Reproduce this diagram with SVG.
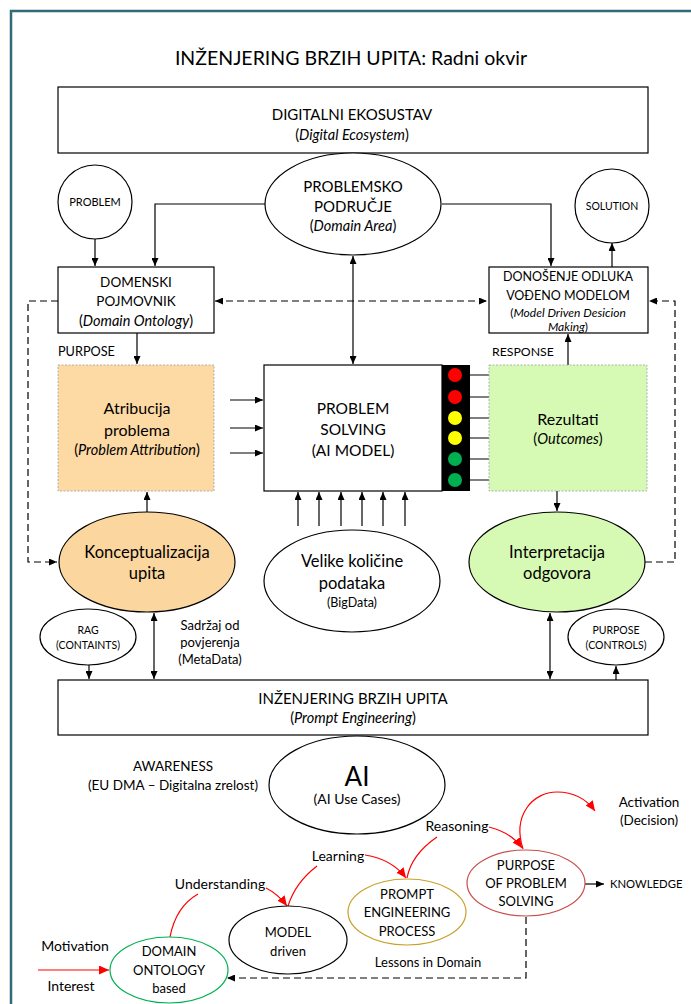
<svg xmlns="http://www.w3.org/2000/svg" width="691" height="1004" viewBox="0 0 691 1004">
<defs>
<marker id="a" viewBox="0 0 8 7" markerWidth="8" markerHeight="7" refX="8" refY="3.5" orient="auto-start-reverse" markerUnits="userSpaceOnUse"><path d="M0,0 L8,3.5 L0,7 z" fill="#000"/></marker>
<marker id="r" viewBox="0 0 10 9" markerWidth="10" markerHeight="9" refX="10" refY="4.5" orient="auto" markerUnits="userSpaceOnUse"><path d="M0,0 L10,4.5 L0,9 z" fill="#ff0000"/></marker>
<style>
text{font-family:Lato,"Liberation Sans",sans-serif;fill:#000;text-anchor:middle}
.it{font-style:italic}
.box{fill:#fff;stroke:#000;stroke-width:1.2}
.ell{fill:#fff;stroke:#000;stroke-width:1.2}
.ln{fill:none;stroke:#000;stroke-width:1.2}
.dash{fill:none;stroke:#000;stroke-width:1.2;stroke-dasharray:7,4}
.red{fill:none;stroke:#ff0000;stroke-width:1.2}
.l{text-anchor:start}
</style>
</defs>
<rect x="0" y="0" width="691" height="1004" fill="#fff"/>
<rect x="11" y="11" width="700" height="1010" fill="none" stroke="#326a78" stroke-width="2.5"/>
<text x="351" y="65" font-size="19.5">INŽENJERING BRZIH UPITA: Radni okvir</text>

<g id="connectors">
<path class="ln" d="M95,239 V266" marker-end="url(#a)"/>
<path class="ln" d="M265,204 H155 V266" marker-end="url(#a)"/>
<path class="ln" d="M442,204 H551 V266" marker-end="url(#a)"/>
<path class="ln" d="M612,267 V243" marker-end="url(#a)"/>
<path class="ln" d="M353,256 V364" marker-start="url(#a)" marker-end="url(#a)"/>
<path class="dash" d="M215,301 H487" marker-start="url(#a)" marker-end="url(#a)"/>
<path class="dash" d="M58,301 H28 V562 H57" marker-end="url(#a)"/>
<path class="dash" d="M645,562 H675 V301 H649" marker-end="url(#a)"/>
<path class="ln" d="M137,333 V364" marker-end="url(#a)"/>
<path class="ln" d="M568,365 V334" marker-end="url(#a)"/>
<path class="ln" d="M230,400 H263" marker-end="url(#a)"/>
<path class="ln" d="M230,428 H263" marker-end="url(#a)"/>
<path class="ln" d="M230,453 H263" marker-end="url(#a)"/>
<path class="ln" d="M470,375 H503" marker-end="url(#a)"/>
<path class="ln" d="M470,397 H503" marker-end="url(#a)"/>
<path class="ln" d="M470,418 H503" marker-end="url(#a)"/>
<path class="ln" d="M470,438 H503" marker-end="url(#a)"/>
<path class="ln" d="M470,459 H503" marker-end="url(#a)"/>
<path class="ln" d="M470,480 H503" marker-end="url(#a)"/>
<path class="ln" d="M147,512 V492" marker-end="url(#a)"/>
<path class="ln" d="M557,491 V511" marker-end="url(#a)"/>
<path class="ln" d="M298,526 V492" marker-end="url(#a)"/>
<path class="ln" d="M319,526 V492" marker-end="url(#a)"/>
<path class="ln" d="M341,526 V492" marker-end="url(#a)"/>
<path class="ln" d="M362,526 V492" marker-end="url(#a)"/>
<path class="ln" d="M383,526 V492" marker-end="url(#a)"/>
<path class="ln" d="M405,526 V492" marker-end="url(#a)"/>
<path class="ln" d="M89,665 V679" marker-end="url(#a)"/>
<path class="ln" d="M154,613 V679" marker-start="url(#a)" marker-end="url(#a)"/>
<path class="ln" d="M550,613 V679" marker-start="url(#a)" marker-end="url(#a)"/>
<path class="ln" d="M616,680 V666" marker-end="url(#a)"/>
<path class="red" d="M38,970 H109" marker-end="url(#r)"/>
<path class="red" d="M170,937 C174,916 184,902 198,894"/>
<path class="red" d="M266,888 C274,892 281,898 287,906" marker-end="url(#r)"/>
<path class="red" d="M317,866 C304,876 293,890 288,906"/>
<path class="red" d="M365,855 C384,858 397,866 406,878" marker-end="url(#r)"/>
<path class="red" d="M437,837 C421,848 410,862 407,878"/>
<path class="red" d="M489,827 C505,831 515,838 522,848" marker-end="url(#r)"/>
<path class="red" d="M523,849 C512,815 533,792 557,792 C574,792 587,800 595,811" marker-end="url(#r)"/>
<path class="ln" d="M585,884 H604" marker-end="url(#a)"/>
<path class="dash" d="M526,917 V978 H227" marker-end="url(#a)"/>
</g>

<g id="digital"><rect class="box" x="58" y="87" width="590" height="66"/>
<text x="352" y="120" font-size="15">DIGITALNI EKOSUSTAV</text>
<text x="352" y="140" font-size="14.5">(<tspan class="it">Digital Ecosystem</tspan>)</text></g>

<g id="problemsko"><ellipse class="ell" cx="353" cy="204" rx="88" ry="51"/>
<text x="353" y="192" font-size="15">PROBLEMSKO</text>
<text x="353" y="212" font-size="15">PODRUČJE</text>
<text x="353" y="231" font-size="14.5">(<tspan class="it">Domain Area</tspan>)</text></g>

<g id="problem"><circle class="ell" cx="95" cy="202" r="37"/><text x="95" y="206" font-size="11">PROBLEM</text></g>
<g id="solution"><circle class="ell" cx="612" cy="206" r="37"/><text x="612" y="210" font-size="10.5">SOLUTION</text></g>

<g id="domenski"><rect class="box" x="58" y="267" width="156" height="66"/>
<text x="136" y="287" font-size="13.5">DOMENSKI</text>
<text x="136" y="306" font-size="13.5">POJMOVNIK</text>
<text x="136" y="326" font-size="14.5">(<tspan class="it">Domain Ontology</tspan>)</text></g>

<g id="donosenje"><rect class="box" x="489" y="267" width="159" height="66"/>
<text x="568" y="281" font-size="12.5">DONOŠENJE ODLUKA</text>
<text x="568" y="300" font-size="12.5">VOĐENO MODELOM</text>
<text x="568" y="317" font-size="12">(<tspan class="it">Model Driven Desicion</tspan></text>
<text x="568" y="331" font-size="12"><tspan class="it">Making</tspan>)</text></g>

<text class="l" x="58" y="356" font-size="12.7">PURPOSE</text>
<text class="l" x="492" y="356" font-size="12.3">RESPONSE</text>

<g id="atribucija"><rect x="58" y="365" width="156" height="126" fill="#fdd9a4" stroke="#a0a0a0" stroke-width="0.8" stroke-dasharray="2,1.5"/>
<text x="137" y="414" font-size="16">Atribucija</text>
<text x="137" y="436" font-size="16">problema</text>
<text x="137" y="455" font-size="14.5">(<tspan class="it">Problem Attribution</tspan>)</text></g>

<g id="solving"><rect class="box" x="264" y="365" width="178" height="126"/>
<rect x="442" y="365" width="28" height="126" fill="#000"/>
<circle cx="455" cy="375" r="7" fill="#ff0000"/>
<circle cx="455" cy="397" r="7" fill="#ff0000"/>
<circle cx="455" cy="418" r="7" fill="#ffff00"/>
<circle cx="455" cy="438" r="7" fill="#ffff00"/>
<circle cx="455" cy="459" r="7" fill="#00b050"/>
<circle cx="455" cy="480" r="7" fill="#00b050"/>
<text x="353" y="414" font-size="15.5">PROBLEM</text>
<text x="353" y="435" font-size="15.5">SOLVING</text>
<text x="353" y="456" font-size="15.5">(AI MODEL)</text></g>

<g id="rezultati"><rect x="489" y="365" width="158" height="126" fill="#d6fab4" stroke="#a0a0a0" stroke-width="0.8" stroke-dasharray="2,1.5"/>
<text x="568" y="425" font-size="16">Rezultati</text>
<text x="568" y="444" font-size="14.5">(<tspan class="it">Outcomes</tspan>)</text></g>

<g id="konceptualizacija"><ellipse cx="147" cy="562" rx="88" ry="50" fill="#fcd69f" stroke="#000" stroke-width="1.2"/>
<text x="147" y="558" font-size="16.5">Konceptualizacija</text>
<text x="147" y="579" font-size="16.5">upita</text></g>

<g id="interpretacija"><ellipse cx="557" cy="562" rx="88" ry="50" fill="#d6fab4" stroke="#000" stroke-width="1.2"/>
<text x="557" y="558" font-size="16.5">Interpretacija</text>
<text x="557" y="579" font-size="16.5">odgovora</text></g>

<g id="velike"><ellipse class="ell" cx="352" cy="581" rx="88" ry="51"/>
<text x="352" y="567" font-size="16.5">Velike količine</text>
<text x="352" y="589" font-size="16.5">podataka</text>
<text x="352" y="607" font-size="12.5">(BigData)</text></g>

<g id="rag"><ellipse class="ell" cx="88" cy="637" rx="48" ry="28"/>
<text x="88" y="634" font-size="10.5">RAG</text>
<text x="88" y="649" font-size="10.5">(CONTAINTS)</text></g>

<g id="metadata"><text x="210" y="630" font-size="13">Sadržaj od</text>
<text x="210" y="647" font-size="13">povjerenja</text>
<text x="210" y="664" font-size="13">(MetaData)</text></g>

<g id="controls"><ellipse class="ell" cx="616" cy="637" rx="48" ry="28"/>
<text x="616" y="634" font-size="10.5">PURPOSE</text>
<text x="616" y="649" font-size="10.5">(CONTROLS)</text></g>

<g id="ibu"><rect class="box" x="58" y="680" width="590" height="55"/>
<text x="353" y="704" font-size="15">INŽENJERING BRZIH UPITA</text>
<text x="353" y="723" font-size="14.5">(<tspan class="it">Prompt Engineering</tspan>)</text></g>

<g id="awareness"><text x="173" y="771" font-size="13.5">AWARENESS</text>
<text x="173" y="790" font-size="13.5">(EU DMA – Digitalna zrelost)</text></g>

<g id="ai"><ellipse class="ell" cx="357" cy="785" rx="88" ry="49"/>
<text x="357" y="786" font-size="26">AI</text>
<text x="357" y="804" font-size="14">(AI Use Cases)</text></g>

<g id="activation"><text x="649" y="807" font-size="13.5">Activation</text>
<text x="649" y="825" font-size="13.5">(Decision)</text></g>

<text x="457" y="831" font-size="14">Reasoning</text>
<text x="338" y="861" font-size="14">Learning</text>
<text x="220" y="889" font-size="14">Understanding</text>
<text x="75" y="951" font-size="14">Motivation</text>
<text x="71" y="991" font-size="14">Interest</text>
<text x="428" y="967" font-size="13">Lessons in Domain</text>
<text class="l" x="610" y="888" font-size="11.3">KNOWLEDGE</text>

<g id="purpose-ps"><ellipse cx="526" cy="883" rx="59" ry="33" fill="#fff" stroke="#c9504c" stroke-width="1.2"/>
<text x="526" y="870" font-size="13">PURPOSE</text>
<text x="526" y="888" font-size="13">OF PROBLEM</text>
<text x="526" y="906" font-size="13">SOLVING</text></g>

<g id="prompt-process"><ellipse cx="407" cy="912" rx="59" ry="33" fill="#fff" stroke="#c9a02a" stroke-width="1.2"/>
<text x="407" y="899" font-size="13">PROMPT</text>
<text x="407" y="917" font-size="13">ENGINEERING</text>
<text x="407" y="936" font-size="13">PROCESS</text></g>

<g id="model"><ellipse class="ell" cx="288" cy="940" rx="59" ry="34"/>
<text x="288" y="937" font-size="13">MODEL</text>
<text x="288" y="956" font-size="13">driven</text></g>

<g id="domain-ontology"><ellipse cx="169" cy="970" rx="59" ry="33" fill="#fff" stroke="#00b050" stroke-width="1.2"/>
<text x="169" y="956" font-size="13">DOMAIN</text>
<text x="169" y="975" font-size="13">ONTOLOGY</text>
<text x="169" y="993" font-size="13">based</text></g>
</svg>
